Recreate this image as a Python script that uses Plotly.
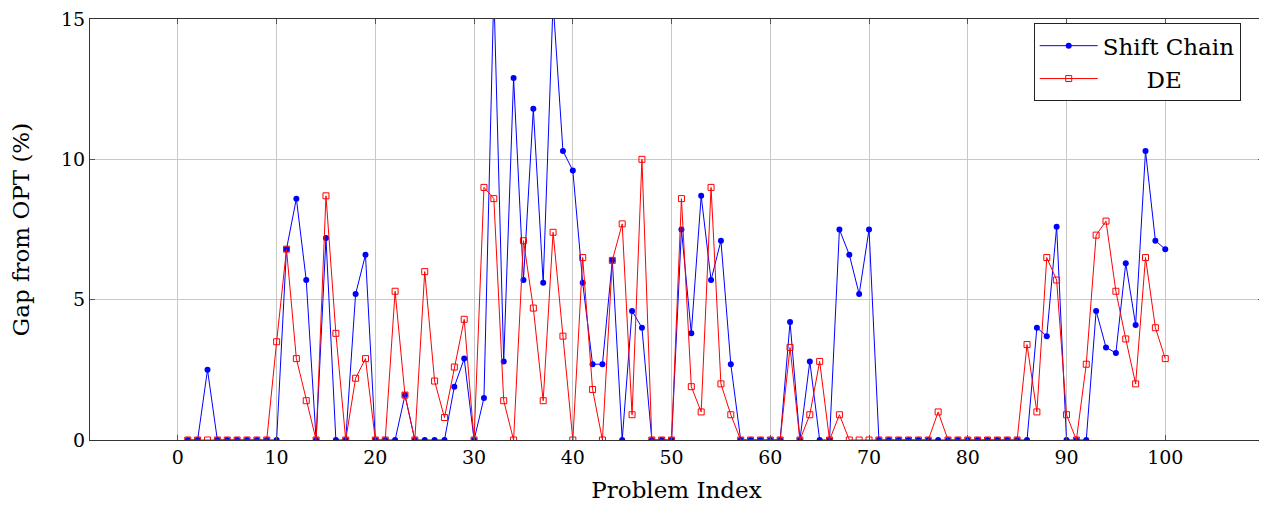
import plotly.graph_objects as go

# problem index 1..100
problem_index = list(range(1, 101))

shift_chain = [
    0, 0, 2.5, 0, 0, 0, 0, 0, 0, 0,
    6.8, 8.6, 5.7, 0, 7.2, 0, 0, 5.2, 6.6, 0,
    0, 0, 1.6, 0, 0, 0, 0, 1.9, 2.9, 0,
    1.5, 16.0, 2.8, 12.9, 5.7, 11.8, 5.6, 15.6, 10.3, 9.6,
    5.6, 2.7, 2.7, 6.4, 0, 4.6, 4.0, 0, 0, 0,
    7.5, 3.8, 8.7, 5.7, 7.1, 2.7, 0, 0, 0, 0,
    0, 4.2, 0, 2.8, 0, 0, 7.5, 6.6, 5.2, 7.5,
    0, 0, 0, 0, 0, 0, 0, 0, 0, 0,
    0, 0, 0, 0, 0, 0, 4.0, 3.7, 7.6, 0,
    0, 0, 4.6, 3.3, 3.1, 6.3, 4.1, 10.3, 7.1, 6.8,
]

de = [
    0, 0, 0, 0, 0, 0, 0, 0, 0, 3.5,
    6.8, 2.9, 1.4, 0, 8.7, 3.8, 0, 2.2, 2.9, 0,
    0, 5.3, 1.6, 0, 6.0, 2.1, 0.8, 2.6, 4.3, 0,
    9.0, 8.6, 1.4, 0, 7.1, 4.7, 1.4, 7.4, 3.7, 0,
    6.5, 1.8, 0, 6.4, 7.7, 0.9, 10.0, 0, 0, 0,
    8.6, 1.9, 1.0, 9.0, 2.0, 0.9, 0, 0, 0, 0,
    0, 3.3, 0, 0.9, 2.8, 0, 0.9, 0, 0, 0,
    0, 0, 0, 0, 0, 0, 1.0, 0, 0, 0,
    0, 0, 0, 0, 0, 3.4, 1.0, 6.5, 5.7, 0.9,
    0, 2.7, 7.3, 7.8, 5.3, 3.6, 2.0, 6.5, 4.0, 2.9,
]

x_ticks = list(range(0, 101, 10))
y_ticks = [0, 5, 10, 15]

font_family = "DejaVu Serif"

fig = go.Figure()
fig.add_trace(go.Scatter(
    x=problem_index, y=shift_chain, mode="lines+markers", name="Shift Chain",
    line=dict(color="#0000ff", width=1),
    marker=dict(symbol="circle", size=6, color="#0000ff"),
))
fig.add_trace(go.Scatter(
    x=problem_index, y=de, mode="lines+markers",
    name="\u00a0" * 6 + "DE",  # centred under "Shift Chain" like the reference
    line=dict(color="#ff0000", width=1),
    marker=dict(symbol="square-open", size=6, color="#ff0000", line=dict(width=1)),
))

axis_common = dict(
    showline=True, linecolor="#333333", linewidth=1.2, mirror="ticks",
    ticks="inside", ticklen=5, tickcolor="#555555",
    showgrid=True, gridcolor="#c8c8c8", gridwidth=1,
    zeroline=False, ticklabeloverflow="allow",
    tickfont=dict(family=font_family, size=19, color="black"),
)

fig.update_xaxes(
    range=[-8.9, 109.9], tickvals=x_ticks,
    title=dict(text="Problem Index", font=dict(family=font_family, size=23, color="black"), standoff=14),
    **axis_common,
)
fig.update_yaxes(
    range=[0, 15], tickvals=y_ticks,
    title=dict(text="Gap from OPT (%)", font=dict(family=font_family, size=23, color="black"), standoff=24),
    **axis_common,
)

# page body adds an 8px offset, margins compensate for it
fig.update_layout(
    width=1267, height=513,
    margin=dict(l=82, r=12, t=11, b=81, autoexpand=False),
    plot_bgcolor="white", paper_bgcolor="white",
    font=dict(family=font_family, color="black"),
    legend=dict(
        x=0.981, y=0.99, xanchor="right", yanchor="top",
        bgcolor="white", bordercolor="#222222", borderwidth=1,
        font=dict(family=font_family, size=23, color="black"),
        itemwidth=58, tracegroupgap=0,
    ),
)

fig.write_html("out.html")
